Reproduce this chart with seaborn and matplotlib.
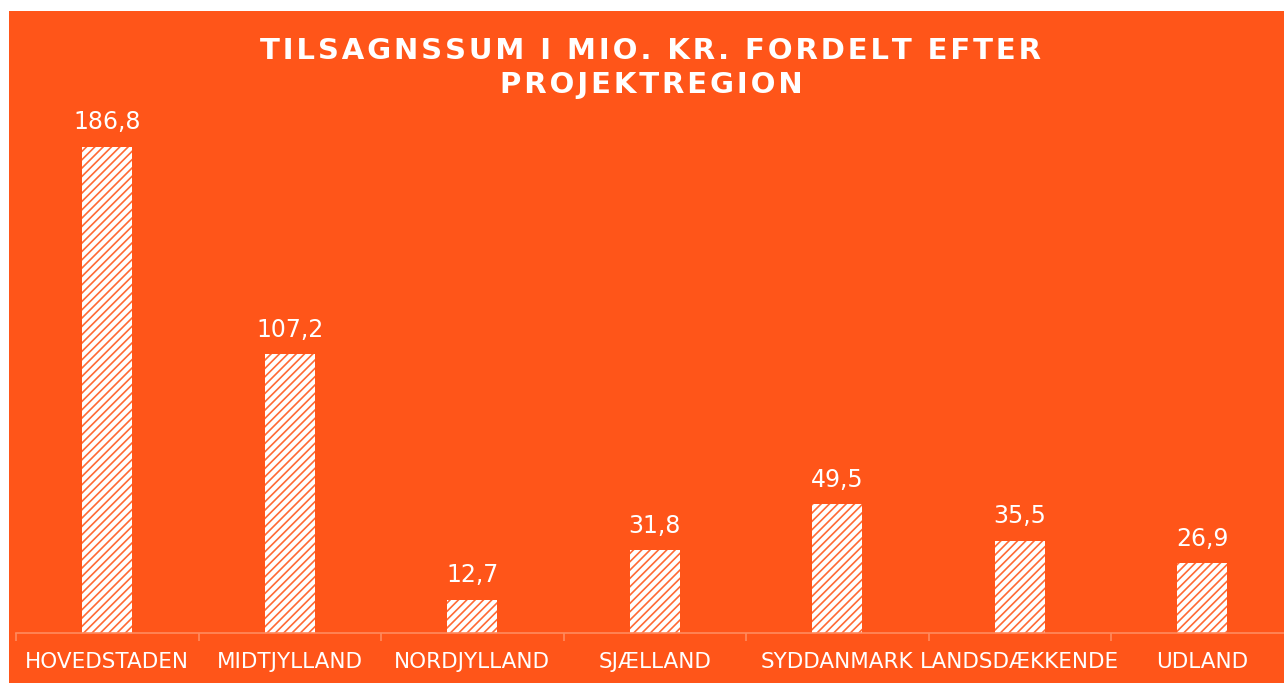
import matplotlib
matplotlib.use("Agg")
import matplotlib.pyplot as plt
import matplotlib.patches as mpatches
import seaborn as sns
import pandas as pd
import numpy as np

# data
regioner = ["HOVEDSTADEN", "MIDTJYLLAND", "NORDJYLLAND", "SJÆLLAND",
            "SYDDANMARK", "LANDSDÆKKENDE", "UDLAND"]
tilsagn = [186.8, 107.2, 12.7, 31.8, 49.5, 35.5, 26.9]
titel = "TILSAGNSSUM I MIO. KR. FORDELT EFTER\nPROJEKTREGION"

orange = "#FF5519"

sns.set_theme(style="white")
plt.rcParams["font.family"] = ["DejaVu Sans"]
plt.rcParams["hatch.linewidth"] = 1.2

df = pd.DataFrame({"region": regioner, "mio": tilsagn})

W, H = 1284, 683
fig = plt.figure(figsize=(W / 100, H / 100), dpi=100, facecolor="white")
fig.patches.append(mpatches.Rectangle((9 / W, 0), 1, (H - 11) / H,
                                      transform=fig.transFigure,
                                      facecolor=orange, edgecolor="none", zorder=-10))

# axes: x from pixel 16 (182.5 px per category), baseline at y=633
x0 = 16 / W
ax_w = 7 * 182.5 / W
y0 = (H - 633) / H
ymax = 200
ax_h = ymax * 2.602 / H
ax = fig.add_axes([x0, y0, ax_w, ax_h])
ax.set_facecolor("none")

sns.barplot(data=df, x="region", y="mio", ax=ax, color="white",
            width=0.275, saturation=1)
for p in ax.patches:
    p.set_facecolor("white")
    p.set_edgecolor("#FF6A35")
    p.set_hatch("////")
    p.set_linewidth(0)

for i, v in enumerate(tilsagn):
    ax.annotate(f"{v:.1f}".replace(".", ","), (i, v), xytext=(0, 9),
                textcoords="offset points", ha="center", va="bottom",
                color="white", fontsize=17)

ax.set_xlim(-0.5, 6.5)
ax.set_ylim(0, ymax)
ax.set_xlabel("")
ax.set_ylabel("")
ax.set_yticks([])
for s in ["top", "right", "left"]:
    ax.spines[s].set_visible(False)
ax.spines["bottom"].set_color("#FF8A5E")
ax.spines["bottom"].set_linewidth(1.2)

ax.set_xticks(np.arange(-0.5, 7, 1), minor=True)
ax.tick_params(axis="x", which="minor", bottom=True, length=6, color="#FF8A5E", width=1.2)
ax.tick_params(axis="x", which="major", bottom=False, length=0, pad=14,
               labelsize=15.5, labelcolor="white")

sp = "\u200a"
fig.text(651 / W, 1 - 68 / H, "\n".join(sp.join(line) for line in titel.split("\n")),
         ha="center", va="center", color="white", fontsize=21, fontweight="bold",
         linespacing=1.3)

fig.savefig("out.png", dpi=100, facecolor="white")
